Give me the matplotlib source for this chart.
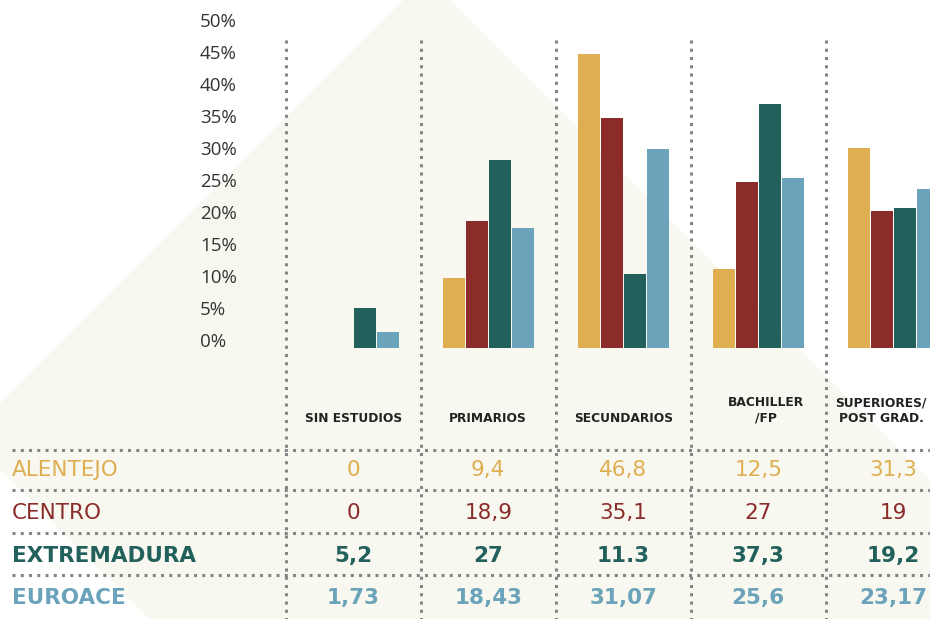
import matplotlib
matplotlib.use("Agg")
import matplotlib.pyplot as plt
from matplotlib.patches import Polygon
from matplotlib.transforms import blended_transform_factory, ScaledTranslation
import numpy as np

# ---------------- data ----------------
categories = ["SIN ESTUDIOS", "PRIMARIOS", "SECUNDARIOS", "BACHILLER\n/FP", "SUPERIORES/\nPOST GRAD."]
series_names = ["ALENTEJO", "CENTRO", "EXTREMADURA", "EUROACE"]
alentejo = [0, 10.9, 45.9, 12.3, 31.25]
centro = [0, 19.8, 35.9, 25.9, 21.4]
extremadura = [6.25, 29.4, 11.6, 38.1, 21.9]
euroace = [2.5, 18.75, 31.1, 26.6, 24.8]
table_alentejo = ["0", "9,4", "46,8", "12,5", "31,3"]
table_centro = ["0", "18,9", "35,1", "27", "19"]
table_extremadura = ["5,2", "27", "11.3", "37,3", "19,2"]
table_euroace = ["1,73", "18,43", "31,07", "25,6", "23,17"]
y_ticks = [0, 5, 10, 15, 20, 25, 30, 35, 40, 45, 50]

colors = ["#DFAE51", "#8B2C2B", "#22605B", "#6BA3BA"]
weights = ["normal", "normal", "bold", "bold"]

W, H = 930, 619
fig = plt.figure(figsize=(W / 100, H / 100), dpi=100)
fig.patch.set_facecolor("white")

def fy(px):
    return 1 - px / H

# cream background diamond
diamond = Polygon([(426.5 / W, fy(-23.5)), (-33.5 / W, fy(436.5)), (615 / W, fy(1085)), (1075 / W, fy(625))],
                  closed=True, transform=fig.transFigure, facecolor="#F8F8F0", edgecolor="none", zorder=-5)
fig.patches.append(diamond)

# axes: 0% at y=348px, 50% at y=28px
ax = fig.add_axes([0, fy(348), 1, 320 / H])
ax.set_facecolor("none")
px_per_group = 135.0
x0 = 353.2
ax.set_xlim(-x0 / px_per_group, (W - x0) / px_per_group)
ax.set_ylim(0, 50)
for s in ax.spines.values():
    s.set_visible(False)
ax.set_xticks([])
ax.set_yticks([])

x = np.arange(len(categories))
step = 23 / px_per_group
bw = 22 / px_per_group
all_series = [alentejo, centro, extremadura, euroace]
for k, vals in enumerate(all_series):
    ax.bar(x + (k - 1.5) * step, vals, width=bw, color=colors[k], linewidth=0,
           zorder=3, clip_on=False)

# y tick labels (left aligned at x=200px, lifted 6px)
tl = blended_transform_factory(fig.transFigure, ax.transData) + ScaledTranslation(0, 6 / 100, fig.dpi_scale_trans)
for t in y_ticks:
    ax.text(200 / W, t, f"{t}%", transform=tl, ha="left", va="center",
            fontsize=13.5, family="Open Sans", color="#333333")

trans = blended_transform_factory(ax.transData, fig.transFigure)
dot_style = dict(color="#858585", linewidth=2.2, linestyle=(0, (1, 1.7)), clip_on=False, zorder=2)

# vertical separators
for i in range(len(categories)):
    ax.plot([i - 0.5, i - 0.5], [fy(40), fy(619)], transform=trans, **dot_style)

# horizontal separators
for ypx in [450, 490, 533, 575]:
    ax.plot([12 / W, 1], [fy(ypx), fy(ypx)], transform=fig.transFigure, **dot_style)

# column headers
header_shift_px = [0, 0, 0, 8, -12]
for i, c in enumerate(categories):
    ypos = 410.5 if "\n" in c else 418
    ax.text(i + header_shift_px[i] / px_per_group, fy(ypos), c, transform=trans, ha="center",
            va="center", fontsize=8.8, fontweight="bold", family="DejaVu Sans", color="#222222",
            linespacing=1.2, clip_on=False)

# table rows
row_y = [470, 513, 556, 598]
tables = [table_alentejo, table_centro, table_extremadura, table_euroace]
for k, name in enumerate(series_names):
    fig.text(12 / W, fy(row_y[k]), name, ha="left", va="center", fontsize=15.5,
             fontweight=weights[k], family="DejaVu Sans", color=colors[k])
    for i, v in enumerate(tables[k]):
        ax.text(i, fy(row_y[k]), v, transform=trans, ha="center", va="center", fontsize=15.5,
                fontweight=weights[k], family="DejaVu Sans", color=colors[k], clip_on=False)

fig.savefig("out.png", dpi=100, facecolor=fig.get_facecolor())
